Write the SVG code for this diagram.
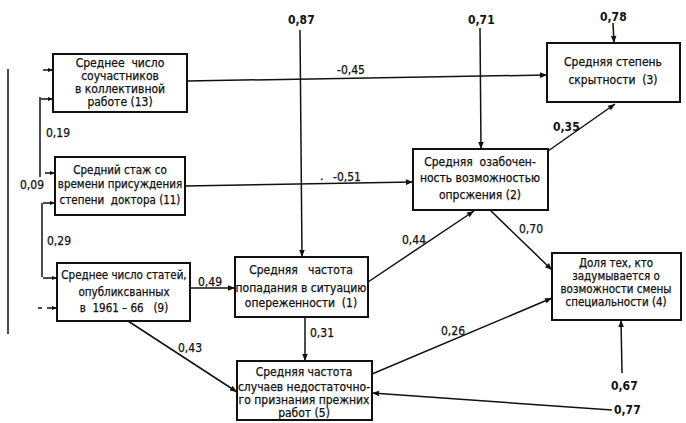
<svg xmlns="http://www.w3.org/2000/svg" width="686" height="423" viewBox="0 0 686 423">
<defs>
<marker id="ah" viewBox="0 0 10 10" refX="10" refY="5" markerWidth="9" markerHeight="7" markerUnits="userSpaceOnUse" orient="auto">
<path d="M0,1 L10,5 L0,9 Z" fill="#111"/>
</marker>
<marker id="sm" viewBox="0 0 10 10" refX="10" refY="5" markerWidth="6" markerHeight="5" markerUnits="userSpaceOnUse" orient="auto">
<path d="M0,1 L10,5 L0,9 Z" fill="#111"/>
</marker>
</defs>
<style>
.box{fill:#fff;stroke:#111;stroke-width:2}
.t{font-family:"DejaVu Sans Condensed","DejaVu Sans",sans-serif;font-size:12px;fill:#111;text-anchor:middle;stroke:#111;stroke-width:0.25;white-space:pre}
.l{font-family:"DejaVu Sans Condensed","DejaVu Sans",sans-serif;font-size:12px;fill:#111;stroke:#111;stroke-width:0.25}
.sm{font-size:11.5px}
.b{font-weight:bold;stroke-width:0}
.c{stroke:#111;stroke-width:1.5;fill:none}
.a{marker-end:url(#ah)}
.s{marker-end:url(#sm)}
</style>
<rect width="686" height="423" fill="#fff"/>
<g id="connectors">
<line class="c a" x1="300" y1="30" x2="302" y2="257"/>
<line class="c a" x1="480" y1="28" x2="481" y2="149"/>
<line class="c a" x1="613" y1="23" x2="614" y2="43"/>
<line class="c a" x1="187" y1="81" x2="547" y2="75"/>
<line class="c a" x1="185" y1="186" x2="413" y2="182"/>
<line class="c a" x1="548" y1="151" x2="615" y2="104"/>
<line class="c a" x1="490" y1="210" x2="552" y2="270"/>
<line class="c a" x1="368" y1="282" x2="474" y2="211"/>
<line class="c a" x1="190" y1="288" x2="235" y2="288"/>
<line class="c a" x1="305" y1="317" x2="305" y2="361"/>
<line class="c a" x1="128" y1="321" x2="237" y2="392"/>
<line class="c a" x1="372" y1="374" x2="552" y2="298"/>
<line class="c a" x1="612" y1="410" x2="372" y2="393"/>
<line class="c a" x1="622" y1="373" x2="621" y2="320"/>
<line class="c" x1="8" y1="69" x2="8" y2="334"/>
<line class="c" x1="40" y1="97" x2="40" y2="177"/>
<line class="c" x1="42" y1="203" x2="42" y2="277"/>
<line class="c s" x1="43" y1="70" x2="53" y2="70"/>
<line class="c s" x1="41" y1="99" x2="53" y2="99"/>
<line class="c s" x1="45" y1="173" x2="55" y2="173"/>
<line class="c s" x1="43" y1="203" x2="55" y2="203"/>
<line class="c s" x1="43" y1="278" x2="57" y2="278"/>
<line class="c" x1="38" y1="308" x2="42" y2="308"/>
<line class="c s" x1="47" y1="308" x2="57" y2="308"/>
<text class="l" x="20" y="189">0,09</text>
<text class="l" x="46" y="137">0,19</text>
<text class="l" x="47" y="245">0,29</text>
<text class="l b" x="288" y="24">0,87</text>
<text class="l b" x="468" y="24">0,71</text>
<text class="l b" x="600" y="21">0,78</text>
<text class="l" x="337" y="74">-0,45</text>
<text class="l" x="320" y="180">.</text>
<text class="l" x="333" y="181">-0,51</text>
<text class="l b" x="553" y="131">0,35</text>
<text class="l" x="519" y="233">0,70</text>
<text class="l" x="402" y="244">0,44</text>
<text class="l" x="198" y="286">0,49</text>
<text class="l" x="310" y="337">0,31</text>
<text class="l" x="178" y="352">0,43</text>
<text class="l" x="441" y="335">0,26</text>
<text class="l b" x="614" y="414">0,77</text>
<text class="l b" x="611" y="390">0,67</text>
</g>
<g id="n13">
<rect class="box" x="53" y="54" width="134" height="58"/>
<text class="t" x="120" y="67">Среднее  число</text>
<text class="t" x="120" y="80">соучастников</text>
<text class="t" x="120" y="93">в коллективной</text>
<text class="t" x="120" y="106">работе (13)</text>
</g>
<g id="n11">
<rect class="box" x="55" y="157" width="130" height="58"/>
<text class="t sm" x="120" y="174">Средний стаж со</text>
<text class="t sm" x="120" y="188">времени присуждения</text>
<text class="t sm" x="120" y="204">степени  доктора (11)</text>
</g>
<g id="n9">
<rect class="box" x="57" y="263" width="133" height="58"/>
<text class="t sm" x="124" y="279">Среднее число статей,</text>
<text class="t sm" x="124" y="296">опубликсванных</text>
<text class="t sm" x="124" y="312">в  1961 – 66   (9)</text>
</g>
<g id="n1">
<rect class="box" x="235" y="257" width="133" height="60"/>
<text class="t" x="301" y="274">Средняя   частота</text>
<text class="t" x="301" y="292">попадания в ситуацию</text>
<text class="t" x="301" y="307">опереженности  (1)</text>
</g>
<g id="n5">
<rect class="box" x="237" y="361" width="135" height="59"/>
<text class="t" x="304" y="376">Средняя частота</text>
<text class="t" x="304" y="391">случаев недостаточно-</text>
<text class="t" x="304" y="404">го признания прежних</text>
<text class="t" x="304" y="417">работ (5)</text>
</g>
<g id="n2">
<rect class="box" x="413" y="149" width="135" height="61"/>
<text class="t" x="480" y="166">Средняя  озабочен-</text>
<text class="t" x="480" y="182">ность возможностью</text>
<text class="t" x="480" y="199">опрсжения (2)</text>
</g>
<g id="n3">
<rect class="box" x="547" y="43" width="133" height="59"/>
<text class="t" x="613" y="66">Средняя степень</text>
<text class="t" x="613" y="84">скрытности  (3)</text>
</g>
<g id="n4">
<rect class="box" x="552" y="253" width="129" height="67"/>
<text class="t sm" x="616" y="267">Доля тех, кто</text>
<text class="t sm" x="616" y="280">задумывается о</text>
<text class="t sm" x="616" y="293">возможности смены</text>
<text class="t sm" x="616" y="306">специальности (4)</text>
</g>
</svg>
